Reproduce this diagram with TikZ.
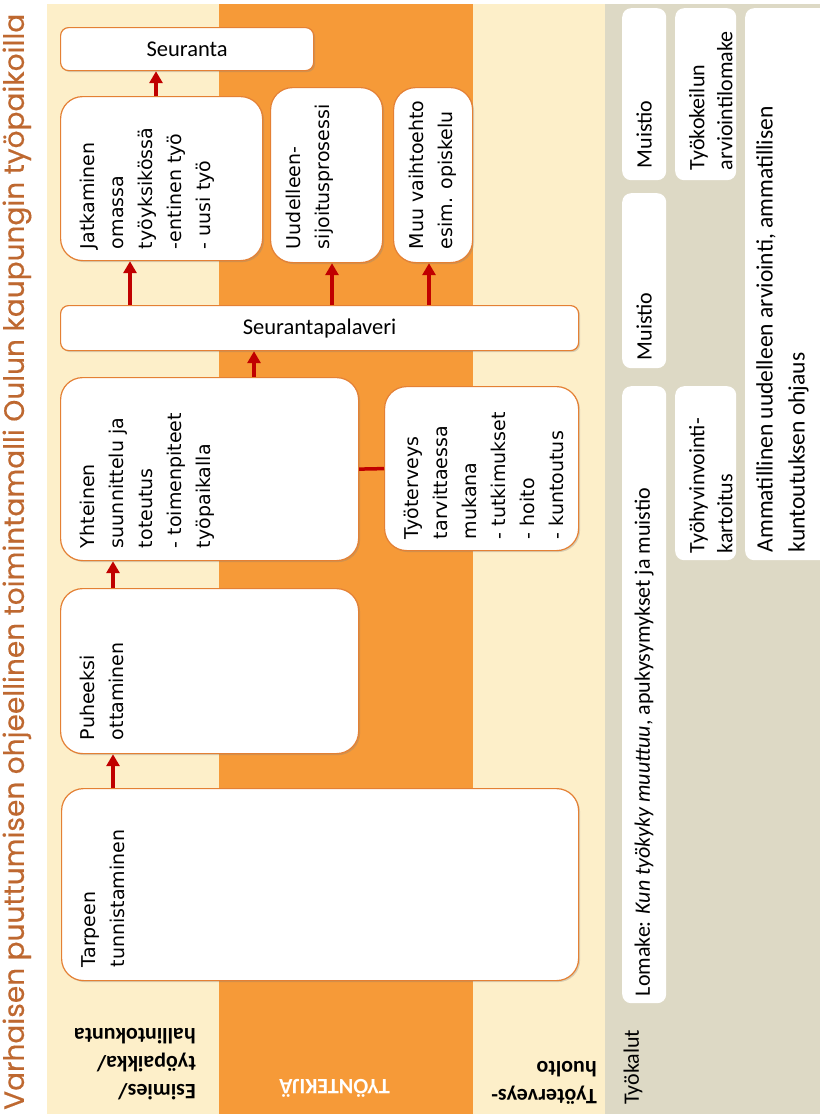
\documentclass[tikz,border=0pt]{standalone}
\usepackage{fontspec}
\setmainfont{DejaVu Sans}
\newfontfamily\calfont{Carlito}
\newfontfamily\titlefont{Poppins}[FakeBold=0.4]
\usetikzlibrary{arrows.meta,shadows}
\definecolor{cream}{RGB}{253,239,201}
\definecolor{laneorange}{RGB}{246,154,56}
\definecolor{toolgrey}{RGB}{221,217,197}
\definecolor{boxline}{RGB}{228,128,52}
\definecolor{arrred}{RGB}{192,0,0}
\definecolor{titlebrown}{RGB}{190,104,48}
\tikzset{
  flow/.style={draw=boxline,line width=1.2pt,fill=white,rounded corners=22pt,anchor=north west,
    drop shadow={shadow xshift=1.5pt,shadow yshift=-1.5pt,opacity=0.3}},
  bar/.style={flow,rounded corners=8pt,font=\calfont\fontsize{22.5}{26}\selectfont},
  tool/.style={fill=white,rounded corners=9pt,anchor=north west},
  ftxt/.style={rotate=90,anchor=north west,align=left,inner sep=0pt,font=\fontsize{19}{29}\selectfont},
  ttxt/.style={rotate=90,anchor=west,align=left,inner sep=0pt,font=\calfont\fontsize{22}{28}\selectfont},
  lbl/.style={rotate=180,anchor=north west,align=left,inner sep=0pt,font=\calfont\bfseries\fontsize{22}{28}\selectfont},
  arr/.style={draw=arrred,line width=3.5pt,-{Triangle[width=13pt,length=12pt]}},
  link/.style={draw=arrred,line width=3.5pt}
}
\begin{document}
\begin{tikzpicture}[x=1pt,y=-1pt]
\useasboundingbox (0,0) rectangle (820,1114);
% lanes
\fill[cream] (47,4) rectangle (219,1114);
\fill[laneorange] (219,4) rectangle (473,1114);
\fill[cream] (473,4) rectangle (605,1114);
\fill[toolgrey] (605,4) rectangle (820,1114);

% title
\node[rotate=90,anchor=west,inner sep=0pt,text=titlebrown,font=\titlefont\fontsize{28}{32}\selectfont] (ttl) at (17,1110)
  {Varhaisen puuttumisen ohjeellinen toimintamalli Oulun kaupungin työpaikoilla};

% lane labels
\node[lbl] (esim) at (196,1100) {Esimies/\\työpaikka/\\hallintokunta};
\node[lbl,text=white] (tyon) at (390,1098) {TYÖNTEKIJÄ};
\node[lbl] (thuolto) at (597,1105) {Työterveys-\\huolto};

% process boxes
\node[flow,minimum width=517,minimum height=192] (tarp) at (61,788) {};
\node[flow,minimum width=298,minimum height=165] (puhe) at (60,588) {};
\node[flow,minimum width=298,minimum height=183] (yht) at (60,377) {};
\node[flow,minimum width=194,minimum height=164] (tth) at (384,386) {};
\node[bar,minimum width=518,minimum height=45] (seurpal) at (60,305) {Seurantapalaveri};
\node[flow,minimum width=202,minimum height=164] (jatk) at (60,96) {};
\node[flow,minimum width=112,minimum height=175] (uud) at (270,87) {};
\node[flow,minimum width=79,minimum height=175] (muu) at (393,87) {};
\node[bar,minimum width=253,minimum height=43] (seur) at (60,27) {Seuranta};

\node[ftxt] at ([shift={(20pt,14pt)}]tarp.south west) {Tarpeen\\tunnistaminen};
\node[ftxt] at ([shift={(20pt,14pt)}]puhe.south west) {Puheeksi\\ottaminen};
\node[ftxt] at ([shift={(20pt,13pt)}]yht.south west) {Yhteinen\\suunnittelu ja\\toteutus\\- toimenpiteet\\työpaikalla};
\node[ftxt] at ([shift={(20pt,12pt)}]tth.south west) {Työterveys\\tarvittaessa\\mukana\\- tutkimukset\\- hoito\\- kuntoutus};
\node[ftxt] at ([shift={(20pt,12pt)}]jatk.south west) {Jatkaminen\\omassa\\työyksikössä\\-entinen työ\\- uusi työ};
\node[ftxt] at ([shift={(16pt,14pt)}]uud.south west) {Uudelleen-\\sijoitusprosessi};
\node[ftxt] at ([shift={(16pt,14pt)}]muu.south west) {Muu vaihtoehto\\esim. opiskelu};

% arrows
\draw[arr] ([xshift=52pt]tarp.north west) -- ([xshift=53pt]puhe.south west);
\draw[arr] ([xshift=53pt]puhe.north west) -- ([xshift=53pt]yht.south west);
\draw[arr] ([xshift=194pt]yht.north west) -- ([xshift=194pt]seurpal.south west);
\draw[link] (yht.east) -- (tth.west);
\draw[arr] ([xshift=70pt]seurpal.north west) -- ([xshift=70pt]jatk.south west);
\draw[arr] ([xshift=272pt]seurpal.north west) -- ([xshift=62pt]uud.south west);
\draw[arr] ([xshift=369pt]seurpal.north west) -- ([xshift=36pt]muu.south west);
\draw[arr] ([xshift=96pt]jatk.north west) -- ([xshift=96pt]seur.south west);

% tools
\node[ttxt] (tkl) at (633,1105) {Työkalut};
\node[tool,minimum width=44,minimum height=172] (mu1) at (622,8) {};
\node[tool,minimum width=44,minimum height=175] (mu2) at (622,193) {};
\node[tool,minimum width=44,minimum height=617] (lom) at (622,386) {};
\node[tool,minimum width=61,minimum height=172] (tk) at (675,8) {};
\node[tool,minimum width=61,minimum height=174] (thv) at (675,386) {};
\node[tool,minimum width=90,minimum height=552] (amm) at (745,8) {};

\node[ttxt] at ([yshift=12pt]mu1.south) {Muistio};
\node[ttxt] at ([yshift=8pt]mu2.south) {Muistio};
\node[ttxt] at ([yshift=7pt]lom.south) {Lomake: \textit{Kun työkyky muuttuu}, apukysymykset ja muistio};
\node[ttxt] at ([shift={(5pt,10pt)}]tk.south) {Työkokeilun\\arviointilomake};
\node[ttxt] at ([shift={(5pt,7pt)}]thv.south) {Työhyvinvointi-\\kartoitus};
\node[ttxt,anchor=north west,font=\calfont\fontsize{23.5}{32}\selectfont] at ([shift={(11pt,8pt)}]amm.south west)
  {Ammatillinen uudelleen arviointi, ammatillisen\\kuntoutuksen ohjaus};
\end{tikzpicture}
\end{document}
